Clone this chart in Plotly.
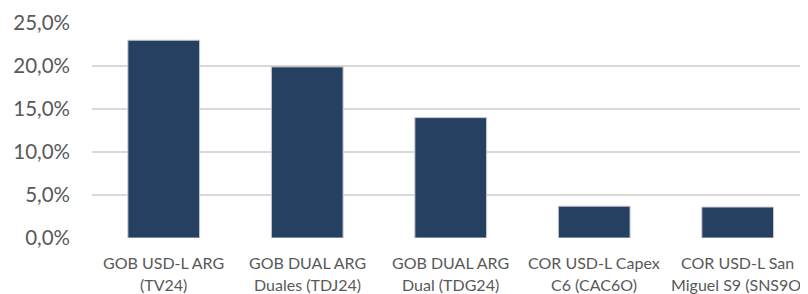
import plotly.graph_objects as go

cat_line1 = ["GOB USD-L ARG", "GOB DUAL ARG", "GOB DUAL ARG", "COR USD-L Capex", "COR USD-L San"]
cat_line2 = ["(TV24)", "Duales (TDJ24)", "Dual (TDG24)", "C6 (CAC6O)", "Miguel S9 (SNS9O)"]
values = [23.0, 19.9, 14.0, 3.7, 3.6]
y_ticks = [0, 5, 10, 15, 20, 25]
y_tick_text = ["0,0%", "5,0%", "10,0%", "15,0%", "20,0%", "25,0%"]

xs = list(range(len(values)))
fig = go.Figure(go.Bar(
    x=xs, y=values,
    marker=dict(color="#264061", line=dict(color="#c8ccd2", width=1)),
    width=0.5,
))

FONT = "Lato, Open Sans, sans-serif"
for i in xs:
    fig.add_annotation(x=i, xref="x", y=0, yref="paper", text=cat_line1[i], showarrow=False,
                       yanchor="middle", yshift=-24, font=dict(family=FONT, size=16, color="#595959"))
    fig.add_annotation(x=i, xref="x", y=0, yref="paper", text=cat_line2[i], showarrow=False,
                       yanchor="middle", yshift=-46, font=dict(family=FONT, size=16, color="#595959"))

fig.update_layout(
    width=800, height=286,
    margin=dict(l=84, r=0, t=15, b=56),
    paper_bgcolor="white", plot_bgcolor="white",
    showlegend=False,
    font=dict(family=FONT, color="#595959"),
)
fig.update_xaxes(
    tickvals=xs, showticklabels=False,
    range=[-0.5, 4.49], showgrid=False, zeroline=False, showline=False,
    ticks="", automargin=False,
)
fig.update_yaxes(
    range=[0, 25], tickmode="array", tickvals=y_ticks,
    ticktext=[t + "\u00a0\u00a0\u00a0\u00a0" for t in y_tick_text],
    showgrid=True, gridcolor="#d9d9d9", gridwidth=2, zeroline=False,
    tickfont=dict(family=FONT, size=20.5, color="#595959"), automargin=False,
)
fig.write_html("out.html")
